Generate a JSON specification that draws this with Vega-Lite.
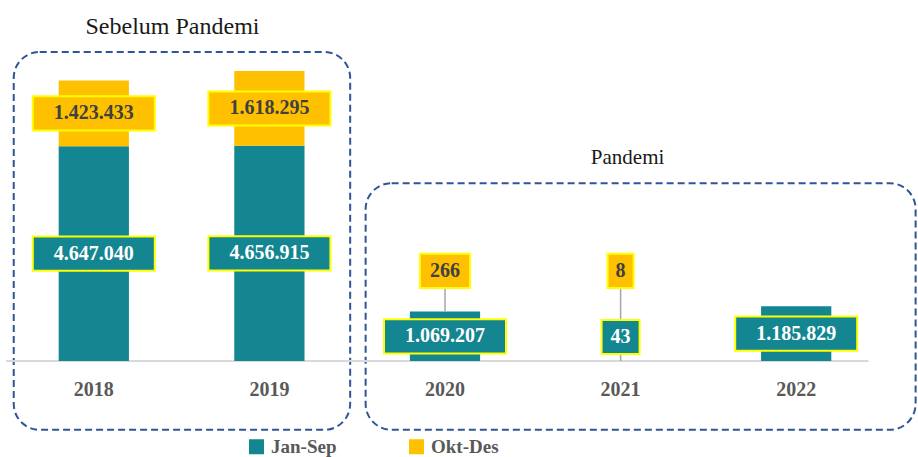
{
  "$schema": "https://vega.github.io/schema/vega-lite/v6.json",
  "width": 918,
  "height": 457,
  "autosize": {"type": "none"},
  "padding": 0,
  "background": "white",
  "config": {
    "view": {"stroke": null},
    "locale": {"number": {"decimal": ",", "thousands": ".", "grouping": [3], "currency": ["", ""]}}
  },
  "datasets": {
    "main": [
      {"year": "2018", "period": "Jan-Sep", "value": 4647040},
      {"year": "2018", "period": "Okt-Des", "value": 1423433},
      {"year": "2019", "period": "Jan-Sep", "value": 4656915},
      {"year": "2019", "period": "Okt-Des", "value": 1618295},
      {"year": "2020", "period": "Jan-Sep", "value": 1069207},
      {"year": "2020", "period": "Okt-Des", "value": 266},
      {"year": "2021", "period": "Jan-Sep", "value": 43},
      {"year": "2021", "period": "Okt-Des", "value": 8},
      {"year": "2022", "period": "Jan-Sep", "value": 1185829}
    ]
  },
  "layer": [
    {
      "data": {"values": [{}]},
      "mark": {"type": "rect", "fill": null, "fillOpacity": 0, "stroke": "#2F5597", "strokeWidth": 2, "strokeDash": [7, 4], "cornerRadius": 26},
      "encoding": {
        "x": {"datum": "2018", "bandPosition": -0.64, "type": "nominal"},
        "x2": {"datum": "2019", "bandPosition": 1.65},
        "y": {"datum": 6690000, "type": "quantitative"},
        "y2": {"datum": -1490000}
      }
    },
    {
      "data": {"values": [{}]},
      "mark": {"type": "rect", "fill": null, "fillOpacity": 0, "stroke": "#2F5597", "strokeWidth": 2, "strokeDash": [7, 4], "cornerRadius": 26},
      "encoding": {
        "x": {"datum": "2020", "bandPosition": -0.63, "type": "nominal"},
        "x2": {"datum": "2022", "bandPosition": 2.2},
        "y": {"datum": 3850000, "type": "quantitative"},
        "y2": {"datum": -1490000}
      }
    },
    {
      "data": {"values": [{}]},
      "mark": {"type": "text", "text": "Sebelum Pandemi", "font": "Liberation Serif", "fontSize": 24, "color": "#1a1a1a", "baseline": "middle", "align": "center"},
      "encoding": {
        "x": {"datum": "2018", "bandPosition": 1.62, "type": "nominal"},
        "y": {"datum": 7230000, "type": "quantitative"}
      }
    },
    {
      "data": {"values": [{}]},
      "mark": {"type": "text", "text": "Pandemi", "font": "Liberation Serif", "fontSize": 21, "color": "#1a1a1a", "baseline": "middle", "align": "center"},
      "encoding": {
        "x": {"datum": "2021", "bandPosition": 0.6, "type": "nominal"},
        "y": {"datum": 4390000, "type": "quantitative"}
      }
    },
    {
      "data": {"values": [{}]},
      "mark": {"type": "rule", "color": "#D9D9D9", "strokeWidth": 2},
      "encoding": {
        "x": {"datum": "2018", "bandPosition": -0.75, "type": "nominal"},
        "x2": {"datum": "2022", "bandPosition": 1.53},
        "y": {"datum": 0, "type": "quantitative"}
      }
    },
    {
      "data": {"name": "main"},
      "transform": [
        {"stack": "value", "groupby": ["year"], "sort": [{"field": "period", "order": "ascending"}], "as": ["y0", "y1"]},
        {"calculate": "datum.value < 1000 ? (datum.period == 'Okt-Des' ? 1950000 : 520000) : (datum.y0 + datum.y1) / 2", "as": "ly"},
        {"calculate": "datum.ly - 370000", "as": "lb"},
        {"calculate": "datum.ly + 370000", "as": "lt"},
        {"calculate": "12 * length(format(datum.value, ',')) + 14", "as": "bw"}
      ],
      "layer": [
        {
          "mark": {"type": "bar"},
          "encoding": {
            "x": {
              "field": "year", "type": "nominal",
              "scale": {"domain": ["2018", "2019", "2020", "2021", "2022"], "range": [6, 884], "paddingInner": 0.6, "paddingOuter": 0.3},
              "axis": {"title": null, "domain": false, "ticks": false, "grid": false, "labelAngle": 0, "labelAlign": "center", "labelBaseline": "top", "labelFont": "Liberation Serif", "labelFontWeight": "bold", "labelFontSize": 20, "labelColor": "#595959", "offset": -89, "labelPadding": 11}
            },
            "y": {"field": "y0", "type": "quantitative", "scale": {"domain": [-2078000, 7814000], "nice": false, "zero": false}, "axis": null},
            "y2": {"field": "y1"},
            "color": {
              "field": "period", "type": "nominal",
              "scale": {"domain": ["Jan-Sep", "Okt-Des"], "range": ["#138691", "#FFC000"]},
              "legend": {"orient": "none", "legendX": 247, "legendY": 437, "direction": "horizontal", "title": null, "symbolType": "square", "symbolSize": 225, "symbolStrokeWidth": 0, "symbolOpacity": 1, "labelFont": "Liberation Serif", "labelFontWeight": "bold", "labelFontSize": 19, "labelColor": "#595959", "columnPadding": 70, "labelOffset": 5}
            }
          }
        },
        {
          "transform": [{"filter": "datum.value < 1000 && datum.period == 'Okt-Des'"}],
          "mark": {"type": "rule", "color": "#A6A6A6", "strokeWidth": 1.5},
          "encoding": {
            "x": {"field": "year", "type": "nominal"},
            "y": {"field": "lb", "type": "quantitative"},
            "y2": {"field": "y1"}
          }
        },
        {
          "mark": {"type": "bar", "stroke": "#FFFF00", "strokeWidth": 2},
          "encoding": {
            "x": {"field": "year", "type": "nominal"},
            "y": {"field": "lb", "type": "quantitative"},
            "y2": {"field": "lt"},
            "size": {"field": "bw", "type": "quantitative", "scale": null},
            "color": {"field": "period", "type": "nominal", "legend": null}
          }
        },
        {
          "mark": {"type": "text", "font": "Liberation Serif", "fontWeight": "bold", "fontSize": 20, "baseline": "middle", "align": "center"},
          "encoding": {
            "x": {"field": "year", "type": "nominal"},
            "y": {"field": "ly", "type": "quantitative"},
            "text": {"field": "value", "type": "quantitative", "format": ","},
            "color": {"condition": {"test": "datum.period == 'Jan-Sep'", "value": "#FFFFFF"}, "value": "#404040"}
          }
        }
      ]
    }
  ]
}
